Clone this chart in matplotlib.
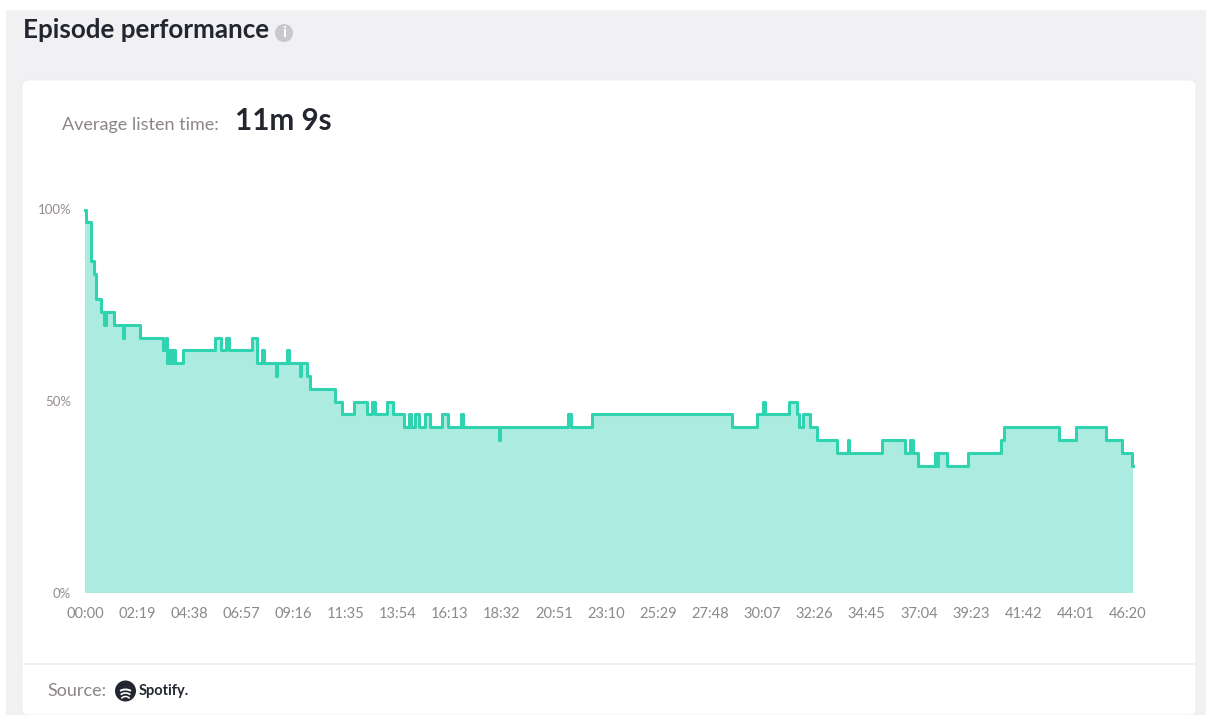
import matplotlib
matplotlib.use("Agg")
import matplotlib.pyplot as plt
from matplotlib.patches import FancyBboxPatch, Rectangle, Circle, Arc
import numpy as np

plt.rcParams['font.family'] = ['Lato', 'DejaVu Sans']

# Time (s) at which the retained-listener level changes, and level in 1/30ths
times = [0, 4, 17, 23, 29, 43, 52, 57, 77, 102, 105, 147, 207, 216, 220, 225, 229, 236, 240, 261,
         347, 363, 375, 384, 445, 460, 473, 477, 510, 512, 540, 545, 573, 577, 591, 600, 667, 685,
         717, 752, 765, 773, 805, 821, 851, 865, 869, 880, 891, 907, 920, 951, 968, 1002, 1008,
         1103, 1107, 1288, 1295, 1352, 1726, 1791, 1808, 1813, 1877, 1898, 1903, 1916, 1934, 1951,
         2006, 2034, 2038, 2125, 2187, 2200, 2208, 2221, 2267, 2272, 2275, 2299, 2355, 2443, 2451,
         2598, 2642, 2722, 2765, 2792, 2795]
levels = [30, 29, 26, 25, 23, 22, 21, 22, 21, 20, 21, 20, 19, 20, 18, 19, 18, 19, 18, 19,
          20, 19, 20, 19, 20, 18, 19, 18, 17, 18, 19, 18, 17, 18, 17, 16, 15, 14,
          15, 14, 15, 14, 15, 14, 13, 14, 13, 14, 13, 14, 13, 14, 13, 14, 13,
          12, 13, 14, 13, 14, 13, 14, 15, 14, 15, 14, 13, 14, 13, 12,
          11, 12, 11, 12, 11, 12, 11, 10, 11, 10, 11, 10, 11, 12, 13,
          12, 13, 12, 11, 10, 10]
x_labels = ['00:00', '02:19', '04:38', '06:57', '09:16', '11:35', '13:54', '16:13', '18:32', '20:51',
            '23:10', '25:29', '27:48', '30:07', '32:26', '34:45', '37:04', '39:23', '41:42', '44:01', '46:20']
x_ticks = [139 * i for i in range(len(x_labels))]
y_ticks = [0, 50, 100]
y_labels = ['0%', '50%', '100%']

W, H = 1206, 715
fig = plt.figure(figsize=(W / 100, H / 100), dpi=100, facecolor='white')

bg = fig.add_axes([0, 0, 1, 1])
bg.set_xlim(0, W)
bg.set_ylim(H, 0)
bg.axis('off')
bg.add_patch(Rectangle((6, 10), 1200, 705, fc='#f1f1f3', ec='none'))
bg.add_patch(FancyBboxPatch((26, 84), 1166, 627, boxstyle='round,pad=4,rounding_size=6',
                            fc='white', ec='#ececee', lw=0.6))
bg.plot([22, 1196], [664, 664], color='#efeff1', lw=1.2)

bg.text(23, 30, 'Episode performance', fontsize=18.7, color='#23262f', va='center', ha='left', fontweight='bold')
bg.add_patch(Circle((284, 33), 9, fc='#c9c9cc', ec='none'))
bg.text(284, 33, 'i', fontsize=11, color='white', va='center', ha='center', fontweight='bold')
bg.text(62, 125, 'Average listen time:', fontsize=13, color='#8b8685', va='center', ha='left')
bg.text(235, 121, '11m 9s', fontsize=21.3, color='#23262f', va='center', ha='left', fontweight='bold')

bg.text(47, 691, 'Source:', fontsize=13, color='#8b8685', va='center', ha='left')
bg.add_patch(Circle((125.5, 691), 10.5, fc='#23262f', ec='none'))
for cy, w, lw in [(690, 13, 1.4), (693.5, 11, 1.2), (697, 9, 1.1)]:
    bg.add_patch(Arc((125.5, cy + 3), w, 7, theta1=200, theta2=340, color='white', lw=lw))
bg.text(139, 691.5, 'Spotify.', fontsize=10.5, color='#23262f', va='center', ha='left', fontweight='bold')

ax = fig.add_axes([85 / W, 1 - 593.5 / H, (1133 - 85) / W, (593.5 - 209.5) / H])
ax.patch.set_alpha(0)
pct = [v / 30 * 100 for v in levels]
ax.fill_between(times, pct, 0, step='post', color='#abebe0', lw=0)
ax.plot(times, pct, drawstyle='steps-post', color='#2fd3b0', lw=2.2, solid_joinstyle='round', clip_on=False)
ax.set_xlim(0, 2795)
ax.set_ylim(0, 100)
ax.set_xticks(x_ticks, x_labels)
ax.set_yticks(y_ticks, y_labels)
ax.tick_params(axis='x', length=0, pad=10, labelsize=10.5, labelcolor='#8a8a8d')
ax.tick_params(axis='y', length=0, pad=10, labelsize=9.5, labelcolor='#958a8a')
for s in ax.spines.values():
    s.set_visible(False)

fig.savefig('out.png', dpi=100, facecolor='white')
